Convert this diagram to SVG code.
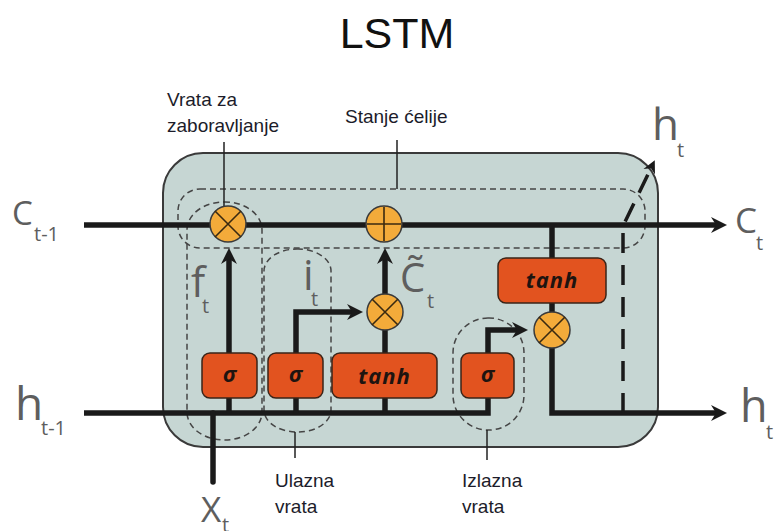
<svg xmlns="http://www.w3.org/2000/svg" width="774" height="531" viewBox="0 0 774 531">
<style>
.bg{fill:#ffffff}
.cell{fill:#c6d6d3;stroke:#3a3a3a;stroke-width:2}
.dash{fill:none;stroke:#454545;stroke-width:1.5;stroke-dasharray:6 4}
.wire{fill:none;stroke:#1a1a1a;stroke-width:5.5;stroke-linejoin:miter}
.thin{fill:none;stroke:#222;stroke-width:1.5}
.op{fill:#f3ab3a;stroke:#3a3a3a;stroke-width:1.5}
.sym{stroke:#3a2a10;stroke-width:1.6}
.gate{fill:#e2531f;stroke:#3a2418;stroke-width:1.5}
.gt{font-family:"Open Sans","DejaVu Sans",sans-serif;font-weight:bold;font-style:italic;fill:#1e1410;text-anchor:middle}
.var{font-family:"Open Sans","DejaVu Sans",sans-serif;font-weight:normal;fill:#5e5e5e}
.lbl{font-family:"Liberation Sans",Arial,sans-serif;font-size:19px;fill:#1c1c2a}
</style>
<defs>
<marker id="arr" markerUnits="userSpaceOnUse" markerWidth="20" markerHeight="20" viewBox="0 0 20 20" refX="10" refY="10" orient="auto">
<path d="M2,2 L18,10 L2,18 L7,10 z" fill="#1a1a1a"/>
</marker>
<marker id="arrs" markerUnits="userSpaceOnUse" markerWidth="16" markerHeight="16" viewBox="0 0 20 20" refX="10" refY="10" orient="auto">
<path d="M2,2 L18,10 L2,18 L7,10 z" fill="#1a1a1a"/>
</marker>
</defs>
<rect class="bg" width="774" height="531"/>
<text x="397" y="48" text-anchor="middle" font-family="Liberation Sans,Arial,sans-serif" font-size="43" fill="#111">LSTM</text>

<g id="cell-body">
<rect class="cell" x="163" y="153" width="495" height="294" rx="40" ry="40"/>
</g>

<g id="regions">
<rect id="cell-state-region" class="dash" x="178" y="189" width="467" height="59" rx="22" ry="22"/>
<rect id="forget-gate-region" class="dash" x="187" y="202" width="75" height="238" rx="37" ry="28"/>
<rect id="input-gate-region" class="dash" x="264" y="249" width="67" height="183" rx="33" ry="22"/>
<rect id="output-gate-region" class="dash" x="453" y="318" width="71" height="112" rx="35" ry="35"/>
</g>

<g id="connectors">
<path class="wire" d="M84,225 H719" marker-end="url(#arr)"/>
<path class="wire" d="M84,413 H488 V398"/>
<path class="wire" d="M213,413 V482" stroke-linecap="round"/>
<path class="wire" d="M229,413 V398"/>
<path class="wire" d="M229,353 V256" marker-end="url(#arr)"/>
<path class="wire" d="M296,413 V398"/>
<path class="wire" d="M296,353 V312 H355" marker-end="url(#arr)"/>
<path class="wire" d="M385,413 V398"/>
<path class="wire" d="M385,353 V330"/>
<path class="wire" d="M385,294 V256" marker-end="url(#arr)"/>
<path class="wire" d="M552,225 V258"/>
<path class="wire" d="M552,303 V312"/>
<path class="wire" d="M488,353 V330 H520" marker-end="url(#arr)"/>
<path class="wire" d="M552,348 V413 H719" marker-end="url(#arr)"/>
<path d="M623,413 V226 L652,166" fill="none" stroke="#1a1a1a" stroke-width="3.5" stroke-dasharray="20 12" marker-end="url(#arrs)"/>
<path class="thin" d="M224,142 V206"/>
<path class="thin" d="M397,140 V189"/>
<path class="thin" d="M295,432 V458"/>
<path class="thin" d="M487,430 V460"/>
</g>

<g id="forget-mult">
<circle class="op" cx="228" cy="224" r="18"/>
<path class="sym" d="M215,211 L241,237 M241,211 L215,237"/>
</g>
<g id="cell-add">
<circle class="op" cx="384" cy="224" r="18"/>
<path class="sym" d="M367,224 H401 M384,207 V241"/>
</g>
<g id="input-mult">
<circle class="op" cx="385" cy="312" r="18"/>
<path class="sym" d="M372,299 L398,325 M398,299 L372,325"/>
</g>
<g id="output-mult">
<circle class="op" cx="552" cy="330" r="18"/>
<path class="sym" d="M539,317 L565,343 M565,317 L539,343"/>
</g>

<g id="forget-sigma">
<rect class="gate" x="202" y="353" width="55" height="45" rx="8"/>
<text class="gt" x="229.5" y="382" font-size="22">σ</text>
</g>
<g id="input-sigma">
<rect class="gate" x="268" y="353" width="55" height="45" rx="8"/>
<text class="gt" x="295.5" y="382" font-size="22">σ</text>
</g>
<g id="input-tanh">
<rect class="gate" x="332" y="353" width="105" height="45" rx="8"/>
<text class="gt" x="384.5" y="384" font-size="22" letter-spacing="1">tanh</text>
</g>
<g id="output-sigma">
<rect class="gate" x="461" y="353" width="53" height="45" rx="8"/>
<text class="gt" x="487.5" y="382" font-size="22">σ</text>
</g>
<g id="output-tanh">
<rect class="gate" x="498" y="258" width="108" height="45" rx="8"/>
<text class="gt" x="552" y="288" font-size="22" letter-spacing="1">tanh</text>
</g>

<g id="labels">
<text class="var" x="12" y="225" font-size="33">C</text>
<text class="var" x="34" y="241" font-size="20">t-1</text>
<text class="var" x="15" y="420" font-size="46">h</text>
<text class="var" x="41" y="435" font-size="20">t-1</text>
<text class="var" x="735" y="233" font-size="35">C</text>
<text class="var" x="756" y="250" font-size="20">t</text>
<text class="var" x="740" y="422" font-size="45">h</text>
<text class="var" x="766" y="439" font-size="20">t</text>
<text class="var" x="652" y="140" font-size="44">h</text>
<text class="var" x="677" y="157" font-size="20">t</text>
<text class="var" x="191" y="297" font-size="42">f</text>
<text class="var" x="202" y="313" font-size="20">t</text>
<text class="var" x="303" y="290" font-size="42">i</text>
<text class="var" x="311" y="306" font-size="20">t</text>
<text class="var" x="400" y="292" font-size="40">C̃</text>
<text class="var" x="427" y="308" font-size="20">t</text>
<text class="var" x="201" y="522" font-size="35">X</text>
<text class="var" x="222" y="532" font-size="20">t</text>
<text class="lbl" x="167" y="106">Vrata za</text>
<text class="lbl" x="167" y="132">zaboravljanje</text>
<text class="lbl" x="345" y="123">Stanje ćelije</text>
<text class="lbl" x="275" y="487">Ulazna</text>
<text class="lbl" x="275" y="513">vrata</text>
<text class="lbl" x="462" y="487">Izlazna</text>
<text class="lbl" x="462" y="513">vrata</text>
</g>
</svg>
